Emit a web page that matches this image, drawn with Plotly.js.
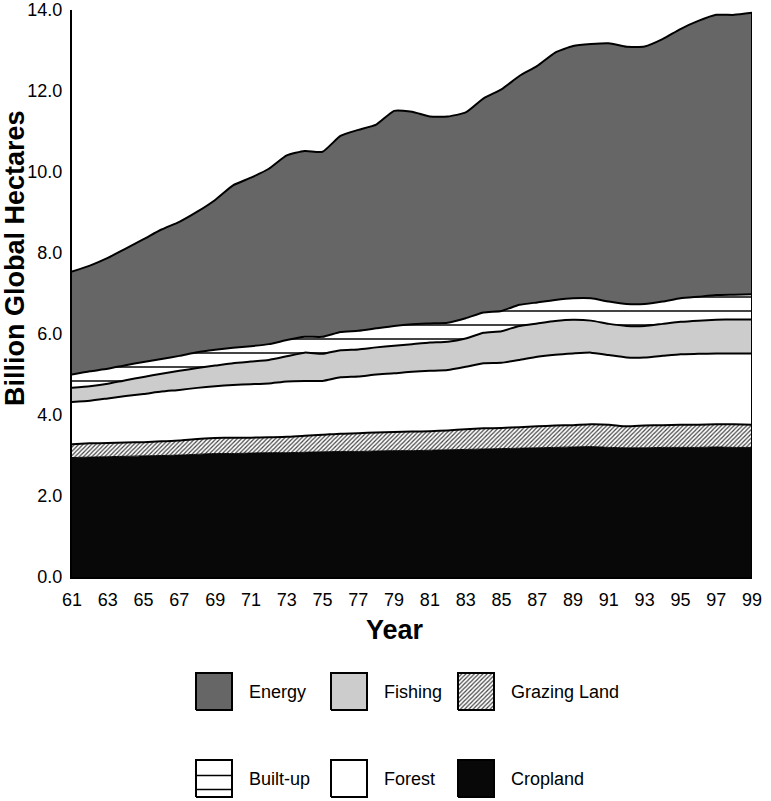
<!DOCTYPE html>
<html>
<head>
<meta charset="utf-8">
<script src="https://cdn.plot.ly/plotly-3.0.1.min.js"></script>
<style>
  html, body { margin: 0; padding: 0; background: #ffffff; }
  #chart { width: 771px; height: 801px; }
</style>
</head>
<body>
<div id="chart"></div>
<script>
// ---- Data (billion global hectares), years 1961-1999 ----
const years = [61,62,63,64,65,66,67,68,69,70,71,72,73,74,75,76,77,78,79,80,
               81,82,83,84,85,86,87,88,89,90,91,92,93,94,95,96,97,98,99];

const cropland = [2.95,2.96,2.97,2.98,2.99,3.00,3.01,3.03,3.05,3.05,3.06,3.07,3.07,3.08,3.09,3.10,3.10,3.11,3.12,3.12,
                  3.13,3.14,3.15,3.16,3.17,3.18,3.19,3.20,3.21,3.22,3.20,3.19,3.19,3.20,3.20,3.20,3.21,3.20,3.20];

const grazing = [0.33,0.34,0.34,0.34,0.34,0.35,0.36,0.38,0.38,0.39,0.38,0.38,0.39,0.41,0.42,0.44,0.45,0.46,0.46,0.47,
                 0.47,0.48,0.50,0.51,0.51,0.52,0.53,0.54,0.54,0.55,0.56,0.53,0.55,0.55,0.56,0.56,0.56,0.57,0.56];

const forest = [1.04,1.05,1.10,1.15,1.19,1.23,1.25,1.26,1.28,1.30,1.32,1.33,1.37,1.35,1.33,1.39,1.40,1.43,1.45,1.48,
                1.49,1.49,1.54,1.61,1.61,1.66,1.72,1.75,1.77,1.77,1.72,1.70,1.68,1.71,1.74,1.75,1.75,1.75,1.76];

const fishing = [0.35,0.36,0.36,0.39,0.42,0.44,0.47,0.49,0.51,0.54,0.56,0.58,0.62,0.70,0.67,0.67,0.67,0.67,0.68,0.68,
                 0.70,0.70,0.70,0.75,0.78,0.84,0.82,0.83,0.83,0.79,0.77,0.78,0.78,0.79,0.80,0.82,0.83,0.84,0.84];

const builtUp = [0.33,0.37,0.37,0.37,0.37,0.36,0.37,0.39,0.39,0.38,0.38,0.39,0.40,0.39,0.42,0.45,0.46,0.47,0.49,0.49,
                 0.47,0.47,0.50,0.50,0.50,0.52,0.52,0.52,0.53,0.55,0.55,0.54,0.54,0.55,0.58,0.59,0.61,0.61,0.62];

const energy = [2.54,2.61,2.74,2.88,3.03,3.20,3.31,3.47,3.70,4.01,4.16,4.33,4.56,4.59,4.57,4.84,4.96,5.03,5.31,5.25,
                5.11,5.09,5.08,5.29,5.47,5.65,5.84,6.11,6.23,6.28,6.38,6.35,6.36,6.48,6.65,6.81,6.92,6.91,6.95];

const xTickVals = [61,63,65,67,69,71,73,75,77,79,81,83,85,87,89,91,93,95,97,99];
const xTickText = ['61','63','65','67','69','71','73','75','77','79','81','83','85','87','89','91','93','95','97','99'];

const legendNames = ['Energy','Fishing','Grazing Land','Built-up','Forest','Cropland'];

// ---- Styles ----
const FONT = 'Liberation Sans, Arial, Helvetica, sans-serif';
const lineStyle = {color: '#000000', width: 2, shape: 'spline', smoothing: 0.5};
const grazingPattern = {shape: '/', bgcolor: '#ffffff', fgcolor: '#444444', size: 3, solidity: 0.4};
const builtPattern = {shape: '-', bgcolor: '#ffffff', fgcolor: '#444444', size: 14, solidity: 0.14};

const layers = [
  {name: 'Cropland', y: cropland, fillcolor: '#080808', line: {color: '#080808', width: 1, shape: 'spline', smoothing: 0.5}},
  {name: 'Grazing Land', y: grazing, fillcolor: '#ffffff', fillpattern: grazingPattern, line: lineStyle},
  {name: 'Forest', y: forest, fillcolor: '#ffffff', line: lineStyle},
  {name: 'Fishing', y: fishing, fillcolor: '#cccccc', line: lineStyle},
  {name: 'Built-up', y: builtUp, fillcolor: '#ffffff', fillpattern: builtPattern, line: lineStyle},
  {name: 'Energy', y: energy, fillcolor: '#666666', line: lineStyle}
];

const traces = layers.map(L => {
  const t = {
    type: 'scatter', mode: 'lines', x: years, y: L.y, name: L.name,
    stackgroup: 'fp', fillcolor: L.fillcolor, line: L.line,
    showlegend: false, hoverinfo: 'skip', xaxis: 'x', yaxis: 'y'
  };
  if (L.fillpattern) t.fillpattern = L.fillpattern;
  return t;
});

// right-hand closing edge of the stack (from data)
const last = years.length - 1;
const totalLast = layers.reduce((s, L) => s + L.y[last], 0);
traces.push({
  type: 'scatter', mode: 'lines', x: [years[last], years[last]], y: [0, totalLast],
  line: {color: '#000000', width: 2}, showlegend: false, hoverinfo: 'skip', xaxis: 'x', yaxis: 'y'
});

// ---- Custom legend (swatches drawn on an overlay axis in pixel units) ----
const W = 771, H = 801;
const legendCols = [196, 331, 458];      // swatch left edge (px)
const legendRowsTop = [673, 760];        // swatch top (px)
const sw = 36, sh = 37;
const legendFills = {
  'Energy': {fillcolor: '#666666'},
  'Fishing': {fillcolor: '#cccccc'},
  'Grazing Land': {fillcolor: '#ffffff', fillpattern: grazingPattern},
  'Built-up': {fillcolor: '#ffffff'},
  'Forest': {fillcolor: '#ffffff'},
  'Cropland': {fillcolor: '#080808'}
};
const annotations = [];
const shapes = [];
legendNames.forEach((nm, i) => {
  const col = i % 3, row = Math.floor(i / 3);
  const x0 = legendCols[col], x1 = x0 + sw;
  const yTop = legendRowsTop[row], yBot = yTop + sh;
  const b0 = H - yBot, b1 = H - yTop;
  const t = {
    type: 'scatter', mode: 'lines', x: [x0, x1, x1, x0, x0], y: [b0, b0, b1, b1, b0],
    fill: 'toself', fillcolor: legendFills[nm].fillcolor,
    line: {color: '#000000', width: 2}, showlegend: false, hoverinfo: 'skip',
    xaxis: 'x2', yaxis: 'y2'
  };
  if (legendFills[nm].fillpattern) t.fillpattern = legendFills[nm].fillpattern;
  traces.push(t);
  if (nm === 'Built-up') {
    [0.42, 0.80].forEach(f => {
      const yy = b1 - f * sh;
      shapes.push({type: 'line', xref: 'x2', yref: 'y2', x0: x0, x1: x1, y0: yy, y1: yy,
                   line: {color: '#000000', width: 1.5}});
    });
  }
  annotations.push({
    xref: 'paper', yref: 'paper', x: (x1 + 15) / W, y: (H - (yTop + sh / 2)) / H,
    xanchor: 'left', yanchor: 'middle', text: nm, showarrow: false,
    font: {family: FONT, size: 18, color: '#000000'}
  });
});

// axis titles placed as annotations
annotations.push({
  xref: 'paper', yref: 'paper', x: 15 / W, y: (H - 258) / H, textangle: -90,
  xanchor: 'center', yanchor: 'middle', showarrow: false,
  text: '<b>Billion Global Hectares</b>', font: {family: FONT, size: 27, color: '#000000'}
});
annotations.push({
  xref: 'paper', yref: 'paper', x: 395 / W, y: (H - 630) / H,
  xanchor: 'center', yanchor: 'middle', showarrow: false,
  text: '<b>Year</b>', font: {family: FONT, size: 27, color: '#000000'}
});

const layout = {
  width: W, height: H,
  margin: {l: 0, r: 0, t: 0, b: 0, pad: 0},
  paper_bgcolor: '#ffffff', plot_bgcolor: 'rgba(0,0,0,0)',
  showlegend: false, hovermode: false,
  font: {family: FONT, size: 18, color: '#000000'},
  xaxis: {
    domain: [72 / W, 752 / W], anchor: 'y', range: [61, 99],
    tickmode: 'array', tickvals: xTickVals, ticktext: xTickText,
    ticks: '', showgrid: false, zeroline: false, showline: true,
    linecolor: '#000000', linewidth: 2, ticklabelstandoff: 5,
    tickfont: {family: FONT, size: 18, color: '#000000'}
  },
  yaxis: {
    domain: [(H - 577) / H, (H - 10) / H], anchor: 'x', range: [0, 14],
    tickmode: 'linear', tick0: 0, dtick: 2, tickformat: '.1f',
    ticks: '', showgrid: false, zeroline: false, showline: true,
    linecolor: '#000000', linewidth: 2, ticklabelstandoff: 4,
    tickfont: {family: FONT, size: 18, color: '#000000'}
  },
  xaxis2: {domain: [0, 1], anchor: 'y2', range: [0, W], visible: false, fixedrange: true},
  yaxis2: {domain: [0, 200 / H], anchor: 'x2', range: [0, 200], visible: false, fixedrange: true},
  annotations: annotations,
  shapes: shapes
};

Plotly.newPlot('chart', traces, layout, {staticPlot: true, displayModeBar: false});
</script>
</body>
</html>
